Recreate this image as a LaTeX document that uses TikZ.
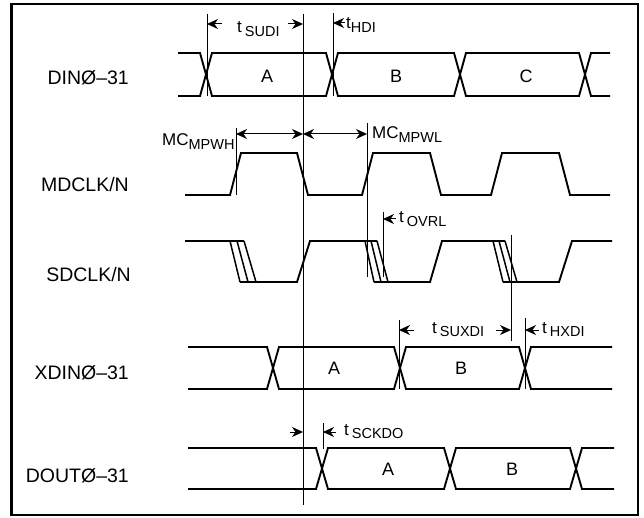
\documentclass[tikz,border=0pt]{standalone}
\usepackage{fontspec}
\setmainfont{Liberation Sans}
\usetikzlibrary{arrows.meta}
\newcommand{\subtxt}[1]{\raisebox{-3.5pt}{\fontsize{14.5}{14.5}\selectfont #1}}
\begin{document}
\begin{tikzpicture}[x=1pt,y=-1pt,
  sig/.style={line width=1.9pt, line join=miter},
  skew/.style={line width=1.5pt},
  refl/.style={line width=0.8pt},
  tip/.tip={Stealth[length=11pt,width=10pt,inset=3.5pt]},
  dimarrow/.style={line width=1pt, -tip},
  dimboth/.style={line width=1pt, tip-tip},
  siglabel/.style={anchor=east, font=\fontsize{19.5}{19.5}\selectfont, inner sep=0pt},
  datalabel/.style={font=\fontsize{18}{18}\selectfont, inner sep=0pt},
  annot/.style={anchor=base west, inner sep=0pt, font=\fontsize{17}{17}\selectfont},
]
\useasboundingbox (0,0) rectangle (644,518);
\draw[line width=2.2pt] (11.5,4) rectangle (638,515);

% signal names
\node[siglabel] (ldin) at (129,78) {DINØ–31};
\node[siglabel] (lmd) at (129,185) {MDCLK/N};
\node[siglabel] (lsd) at (131,275) {SDCLK/N};
\node[siglabel] (lxd) at (129,373) {XDINØ–31};
\node[siglabel] (ldo) at (129,476) {DOUTØ–31};

% DIN bus
\draw[sig] (178,53) -- (200,53) -- (212,96) -- (326,96) -- (338,53) -- (454,53) -- (466,96) -- (579,96) -- (591,53) -- (610,53);
\draw[sig] (178,96) -- (200,96) -- (212,53) -- (326,53) -- (338,96) -- (454,96) -- (466,53) -- (579,53) -- (591,96) -- (610,96);
\node[datalabel] (dina) at (267,76) {A};
\node[datalabel] (dinb) at (396,76) {B};
\node[datalabel] (dinc) at (526,76) {C};

% MDCLK
\draw[sig] (185,195) -- (230,195) -- (241,153) -- (297,153) -- (308,195) -- (362,195) -- (373,153) -- (430,153) -- (441,195) -- (491,195) -- (502,153) -- (559,153) -- (570,195) -- (610,195);

% SDCLK
\draw[sig] (185,241) -- (244,241);
\draw[skew] (230,241) -- (240,282) (237,241) -- (248,282) (244,241) -- (256,282);
\draw[sig] (240,282) -- (297,282) -- (310,241) -- (377,241);
\draw[skew] (365,241) -- (374,282) (371,241) -- (381,282) (377,241) -- (388,282);
\draw[sig] (374,282) -- (430,282) -- (442,241) -- (505,241);
\draw[skew] (493,241) -- (503,282) (499,241) -- (510,282) (505,241) -- (517,282);
\draw[sig] (503,282) -- (559,282) -- (572,241) -- (612,241);

% XDIN bus
\draw[sig] (188,347) -- (267,347) -- (279,389) -- (394,389) -- (406,347) -- (519,347) -- (531,389) -- (612,389);
\draw[sig] (188,389) -- (267,389) -- (279,347) -- (394,347) -- (406,389) -- (519,389) -- (531,347) -- (612,347);
\node[datalabel] (xa) at (334,368) {A};
\node[datalabel] (xb) at (461,368) {B};

% DOUT bus
\draw[sig] (188,448) -- (316,448) -- (328,489) -- (444,489) -- (456,448) -- (570,448) -- (582,489) -- (614,489);
\draw[sig] (188,489) -- (316,489) -- (328,448) -- (444,448) -- (456,489) -- (570,489) -- (582,448) -- (614,448);
\node[datalabel] (da) at (388,469) {A};
\node[datalabel] (db) at (512,469) {B};

% reference lines
\draw[refl] (207,14) -- (207,96);
\draw[refl] (303,14) -- (303,505);
\draw[refl] (333,13) -- (333,96);
\draw[refl] (236,128) -- (236,195);
\draw[refl] (367,123) -- (367,277);
\draw[refl] (383,212) -- (383,277);
\draw[refl] (511,235) -- (511,341);
\draw[refl] (399,320) -- (399,389);
\draw[refl] (525,318) -- (525,389);
\draw[refl] (323,423) -- (323,449);

% dimension arrows
\draw[dimarrow] (222,24) -- (207,24);
\draw[dimarrow] (288,24) -- (303,24);
\draw[dimarrow] (345,23) -- (333,23);
\draw[dimboth] (236,134) -- (303,134);
\draw[dimboth] (303,134) -- (367,134);
\draw[dimarrow] (396,219) -- (383,219);
\draw[dimarrow] (414,330) -- (399,330);
\draw[dimarrow] (496,330) -- (511,330);
\draw[dimarrow] (539,330) -- (525,330);
\draw[dimarrow] (290,432) -- (303,432);
\draw[dimarrow] (336,432) -- (323,432);

% annotations
\node[annot] (tsudi) at (237,33) {t\hspace{3pt}\subtxt{SUDI}};
\node[annot] (thdi) at (346,29) {t\subtxt{HDI}};
\node[annot] (mpwh) at (162,146) {MC\subtxt{MPWH}};
\node[annot] (mpwl) at (372,139) {MC\subtxt{MPWL}};
\node[annot] (tovrl) at (399,223) {t\hspace{3pt}\subtxt{OVRL}};
\node[annot] (tsuxdi) at (432,333) {t\hspace{3pt}\subtxt{SUXDI}};
\node[annot] (thxdi) at (542,333) {t\hspace{3pt}\subtxt{HXDI}};
\node[annot] (tsckdo) at (344,435) {t\hspace{3pt}\subtxt{SCKDO}};
\end{tikzpicture}
\end{document}
